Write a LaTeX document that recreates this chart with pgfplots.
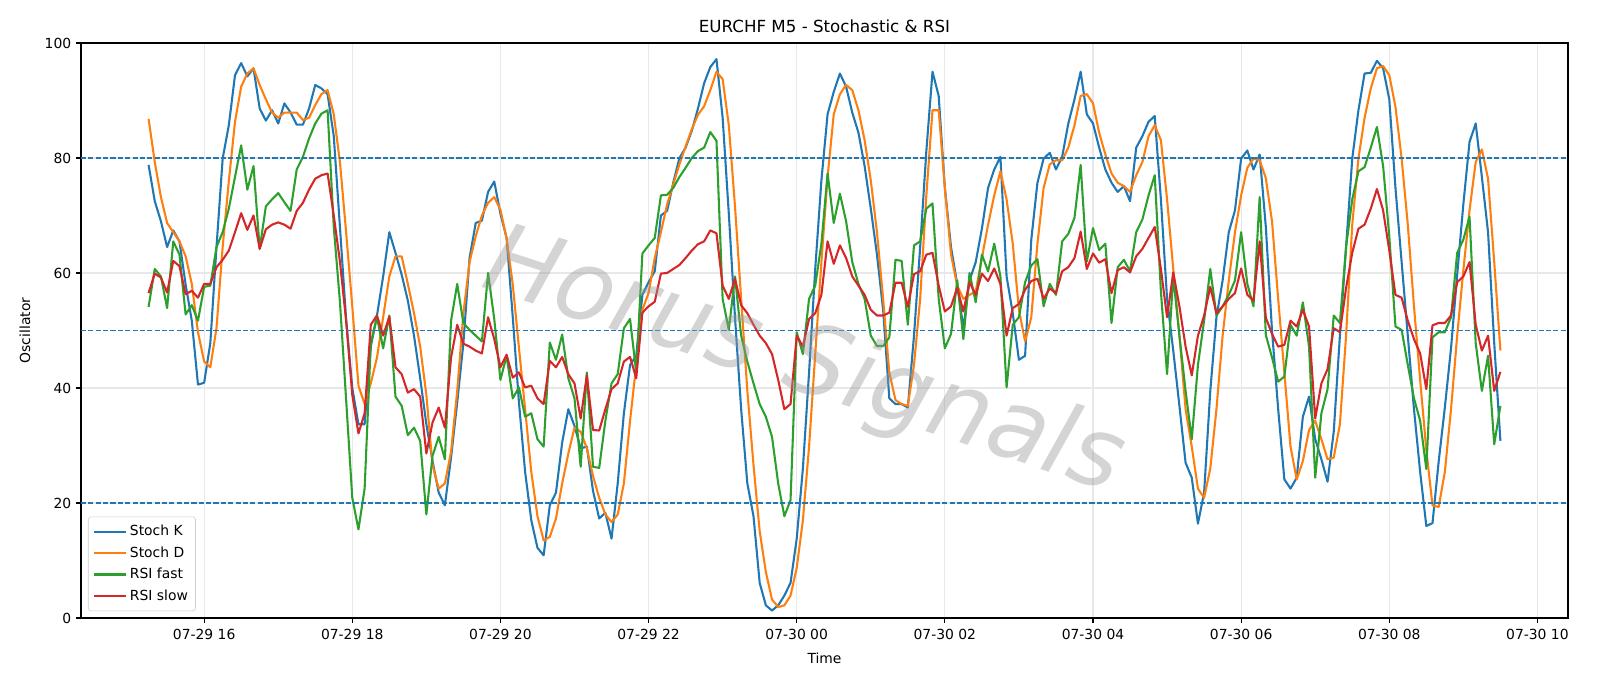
\documentclass[border=0pt]{standalone}
\usepackage{fontspec}
\setmainfont{DejaVu Sans}
\usepackage{pgfplots}
\pgfplotsset{compat=1.18}
\usepackage{pgfplotstable}
\definecolor{C0}{HTML}{1F77B4}
\definecolor{C1}{HTML}{FF7F0E}
\definecolor{C2}{HTML}{2CA02C}
\definecolor{C3}{HTML}{D62728}

\pgfplotstableread{
i K D F S
0 78.8 86.8 54.1 56.5
1 72.5 79.3 60.7 59.9
2 69.0 73.2 59.4 59.2
3 64.5 68.7 53.9 56.6
4 67.4 67.1 65.5 62.1
5 65.5 65.5 63.2 61.2
6 58.0 62.9 52.8 56.3
7 51.7 58.1 54.4 56.9
8 40.6 49.7 51.7 55.7
9 40.9 44.6 57.6 58.1
10 47.8 43.6 57.8 58.1
11 64.5 50.4 64.5 61.0
12 79.9 64.5 67.1 62.3
13 85.7 76.0 71.2 63.9
14 94.4 86.3 76.7 67.1
15 96.5 92.4 82.2 70.4
16 94.2 94.7 74.5 67.5
17 95.6 95.6 78.6 70.0
18 88.6 92.7 64.2 64.2
19 86.5 90.2 71.6 67.6
20 88.3 87.9 72.8 68.4
21 86.0 87.0 73.9 68.8
22 89.5 87.9 72.3 68.4
23 87.9 87.9 70.8 67.7
24 85.8 87.9 78.0 70.8
25 85.8 86.6 80.2 72.2
26 88.6 87.0 83.4 74.5
27 92.7 89.2 86.0 76.4
28 92.1 91.1 87.7 77.0
29 91.1 91.8 88.3 77.3
30 83.8 87.6 68.0 70.0
31 68.0 79.3 55.0 62.0
32 52.0 67.1 38.0 51.7
33 40.0 54.2 20.9 38.8
34 33.7 40.4 15.4 32.1
35 33.7 37.2 22.5 35.6
36 47.2 40.8 47.8 51.0
37 52.6 45.3 52.3 52.6
38 59.4 52.3 46.9 49.1
39 67.1 59.4 52.6 52.4
40 63.5 62.9 38.5 43.6
41 59.7 62.9 36.9 42.4
42 55.2 58.1 31.8 39.2
43 49.1 53.0 33.1 39.8
44 41.7 47.2 30.8 38.5
45 33.7 38.8 18.0 28.6
46 27.3 26.6 28.2 34.0
47 21.8 22.5 31.5 36.6
48 19.6 23.4 27.6 33.1
49 27.9 28.9 51.7 45.3
50 37.5 39.5 58.1 51.0
51 47.8 53.0 51.3 47.7
52 62.6 61.9 50.1 47.2
53 68.7 66.4 49.1 46.5
54 69.1 70.0 48.1 46.0
55 74.1 72.2 60.0 52.3
56 75.9 73.2 52.0 48.5
57 70.3 71.0 41.4 43.6
58 66.1 66.0 45.6 45.8
59 52.3 58.0 38.2 41.8
60 37.5 47.0 40.1 42.7
61 25.4 36.3 35.0 40.1
62 17.0 25.4 35.6 40.4
63 12.2 17.7 31.1 38.2
64 10.9 13.5 29.8 37.2
65 19.6 14.1 47.9 44.7
66 21.8 17.3 44.9 43.6
67 30.5 23.4 49.3 45.4
68 36.3 28.6 41.7 42.4
69 33.4 33.1 38.2 40.8
70 29.5 32.4 26.3 34.7
71 29.8 29.5 42.7 42.2
72 22.1 24.7 26.3 32.7
73 17.3 20.9 26.1 32.6
74 18.3 18.0 34.3 36.3
75 13.8 16.7 40.8 39.8
76 23.4 18.0 42.4 40.8
77 35.6 23.4 50.4 44.6
78 44.0 34.3 52.0 45.4
79 45.6 44.0 42.7 41.7
80 56.2 53.6 63.4 53.1
81 58.4 56.5 64.8 54.2
82 60.3 62.6 66.1 55.0
83 70.0 67.1 73.5 59.9
84 70.8 71.9 73.6 60.0
85 75.7 75.4 74.8 60.7
86 80.0 78.9 76.7 61.4
87 81.8 82.0 78.3 62.6
88 84.7 85.0 80.0 63.9
89 88.6 87.5 81.2 65.0
90 93.0 89.0 81.8 65.5
91 95.8 91.8 84.5 67.4
92 97.2 95.0 83.0 66.9
93 87.0 93.7 55.5 57.8
94 70.3 85.7 50.1 55.5
95 52.3 71.6 59.4 59.0
96 36.3 55.5 49.1 54.4
97 23.4 39.5 44.6 53.0
98 17.7 26.6 40.8 51.0
99 6.1 15.1 37.2 49.1
100 2.2 8.0 35.0 47.8
101 1.3 3.2 31.5 45.9
102 2.2 1.9 23.4 41.4
103 3.9 2.2 17.7 36.3
104 6.1 3.9 20.5 37.2
105 13.8 8.7 49.7 49.1
106 26.0 17.0 45.9 47.2
107 42.7 29.8 55.5 52.0
108 60.7 45.9 57.8 53.0
109 76.1 61.9 65.1 56.2
110 87.6 76.7 77.3 65.5
111 91.5 87.6 68.7 61.6
112 94.7 91.1 73.8 64.8
113 92.4 92.7 69.0 62.6
114 87.9 91.8 61.9 59.4
115 84.4 88.3 58.1 57.8
116 78.6 83.1 55.5 56.2
117 71.2 76.1 49.1 53.6
118 63.2 67.1 47.3 52.6
119 53.6 55.5 47.3 52.6
120 38.2 42.7 48.8 53.1
121 37.2 37.9 62.3 58.3
122 37.2 37.2 62.1 58.3
123 36.6 36.9 51.0 54.1
124 49.1 44.0 64.8 59.8
125 64.5 55.5 65.5 60.3
126 81.2 73.5 71.2 63.2
127 95.0 88.3 72.1 63.5
128 90.8 88.3 55.5 57.8
129 74.8 74.8 46.9 53.3
130 64.5 63.2 49.4 54.2
131 58.1 57.8 58.7 57.4
132 50.4 55.5 48.5 53.3
133 58.7 56.2 60.0 58.4
134 61.9 56.8 54.9 56.2
135 67.7 62.6 63.2 59.9
136 74.8 68.4 60.3 58.6
137 78.0 73.5 65.1 60.8
138 80.2 77.7 59.4 58.1
139 59.4 72.8 40.1 49.1
140 53.0 65.1 51.0 53.9
141 44.9 53.6 52.3 54.6
142 45.6 48.1 58.4 57.1
143 65.8 52.3 61.3 58.6
144 75.7 65.1 62.4 59.0
145 79.9 74.8 54.2 55.5
146 80.9 78.9 58.1 57.3
147 78.0 79.6 56.2 56.5
148 80.2 79.6 65.5 60.3
149 86.0 81.8 66.8 61.0
150 90.2 85.7 69.6 62.6
151 95.0 90.8 78.8 67.2
152 87.6 91.1 62.0 60.7
153 86.0 89.5 67.8 63.4
154 81.8 84.4 64.0 61.8
155 78.0 80.6 65.1 62.4
156 75.7 77.3 51.3 56.5
157 74.1 75.7 61.0 60.5
158 75.1 75.1 62.3 61.0
159 72.5 74.1 60.3 60.1
160 81.8 77.0 67.1 62.9
161 83.8 79.3 69.3 64.2
162 86.3 83.8 73.5 66.1
163 87.3 85.7 77.0 68.0
164 72.8 83.1 56.8 60.7
165 55.5 72.8 42.4 52.3
166 46.5 60.7 59.4 60.1
167 36.9 49.1 49.1 54.2
168 27.0 36.3 39.5 47.2
169 24.4 29.8 31.1 42.2
170 16.4 22.5 44.0 49.1
171 21.8 20.9 51.7 52.6
172 39.5 26.0 60.7 57.6
173 52.3 36.3 52.6 53.0
174 58.7 49.1 54.2 54.2
175 67.1 58.7 56.2 55.5
176 70.9 67.1 58.7 56.5
177 79.9 73.5 67.1 60.8
178 81.3 78.3 58.1 56.2
179 78.0 79.9 54.2 55.2
180 80.6 79.6 73.2 65.5
181 68.0 76.5 49.2 52.2
182 50.0 69.0 45.3 49.4
183 36.3 55.5 41.1 47.2
184 24.1 42.7 42.0 47.5
185 22.5 29.8 51.0 51.7
186 24.4 24.1 49.1 50.7
187 35.0 27.3 54.9 53.6
188 38.5 32.7 47.2 50.7
189 31.1 34.3 24.4 34.7
190 27.6 31.1 35.6 40.8
191 23.7 27.6 39.8 43.3
192 32.4 27.9 52.6 50.4
193 49.1 33.7 51.3 49.7
194 64.5 49.1 64.5 57.4
195 79.9 68.4 72.8 63.5
196 88.3 79.9 77.7 67.7
197 94.7 87.0 78.4 68.4
198 94.8 92.1 81.8 71.2
199 96.9 95.6 85.4 74.6
200 95.6 96.0 78.6 70.9
201 90.2 94.4 66.4 63.9
202 74.8 88.9 50.7 56.2
203 61.9 79.9 50.1 55.7
204 49.1 68.4 44.0 51.7
205 36.3 54.2 38.2 48.5
206 25.4 41.4 34.3 46.0
207 16.0 29.2 25.9 39.8
208 16.5 19.6 48.8 50.9
209 27.2 19.3 49.7 51.3
210 36.6 25.4 49.7 51.3
211 46.9 36.3 52.3 52.6
212 59.7 49.1 63.5 58.4
213 72.0 60.5 65.8 59.4
214 82.8 70.9 69.8 61.9
215 86.0 79.3 47.8 51.0
216 76.7 81.5 39.5 46.5
217 67.1 76.4 45.6 49.1
218 47.8 61.9 30.2 39.5
219 30.8 46.5 36.9 42.8
}\datatable

\begin{document}
\begin{tikzpicture}
\useasboundingbox (-58.32pt,-48.96pt) rectangle (1093.68pt,444.96pt);
\begin{axis}[
  at={(0,0)}, anchor=south west,
  scale only axis, width=1070.64pt, height=414pt,
  xmin=-10.95, xmax=229.95, ymin=0, ymax=100,
  xtick={9,33,57,81,105,129,153,177,201,225},
  xticklabels={07-29 16,07-29 18,07-29 20,07-29 22,07-30 00,07-30 02,07-30 04,07-30 06,07-30 08,07-30 10},
  ytick={0,20,40,60,80,100},
  tick align=outside, xtick pos=left, ytick pos=left,
  major tick length=3.5pt,
  tick style={black, line width=0.8pt},
  axis line style={line width=0.8pt},
  grid=major, grid style={color=black!9, line width=0.8pt},
  tick label style={font=\fontsize{10}{12}\selectfont},
  xticklabel style={yshift=-1.2pt},
  /pgf/number format/assume math mode=true,
  title={EURCHF M5 - Stochastic \& RSI},
  title style={font=\fontsize{12}{14}\selectfont, yshift=-2pt},
  xlabel={Time}, ylabel={Oscillator},
  label style={font=\fontsize{10}{12}\selectfont},
  xlabel style={yshift=-2.5pt},
  ylabel style={yshift=3.5pt},
  legend style={at={(0.0047,0.012)}, anchor=south west, font=\fontsize{10}{12}\selectfont,
    draw=black!20, rounded corners=2pt, fill=white, fill opacity=0.8, text opacity=1,
    inner xsep=3.5pt, inner ysep=4.2pt, row sep=2.3pt},
  legend cell align=left,
  legend image code/.code={\draw[#1, line width=1.5pt] (0pt,0pt) -- (23pt,0pt);},
  every axis plot/.append style={line width=1.5pt, line join=round},
]
\addplot[C0, no markers] table[x=i, y=K] {\datatable};
\addlegendentry{Stoch K}
\addplot[C1, no markers] table[x=i, y=D] {\datatable};
\addlegendentry{Stoch D}
\addplot[C2, no markers] table[x=i, y=F] {\datatable};
\addlegendentry{RSI fast}
\addplot[C3, no markers] table[x=i, y=S] {\datatable};
\addlegendentry{RSI slow}
\addplot[C0, line width=1.1pt, dash pattern=on 3.7pt off 1.6pt, forget plot] coordinates {(-10.95,80) (229.95,80)};
\addplot[C0, line width=1.1pt, dash pattern=on 3.7pt off 1.6pt, forget plot] coordinates {(-10.95,50) (229.95,50)};
\addplot[C0, line width=1.1pt, dash pattern=on 3.7pt off 1.6pt, forget plot] coordinates {(-10.95,20) (229.95,20)};
\node[rotate=-18, font=\fontsize{70}{76}\selectfont\itshape, text=black!40, opacity=0.42] at (rel axis cs:0.486,0.442) {Horus Signals};
\end{axis}
\end{tikzpicture}
\end{document}
